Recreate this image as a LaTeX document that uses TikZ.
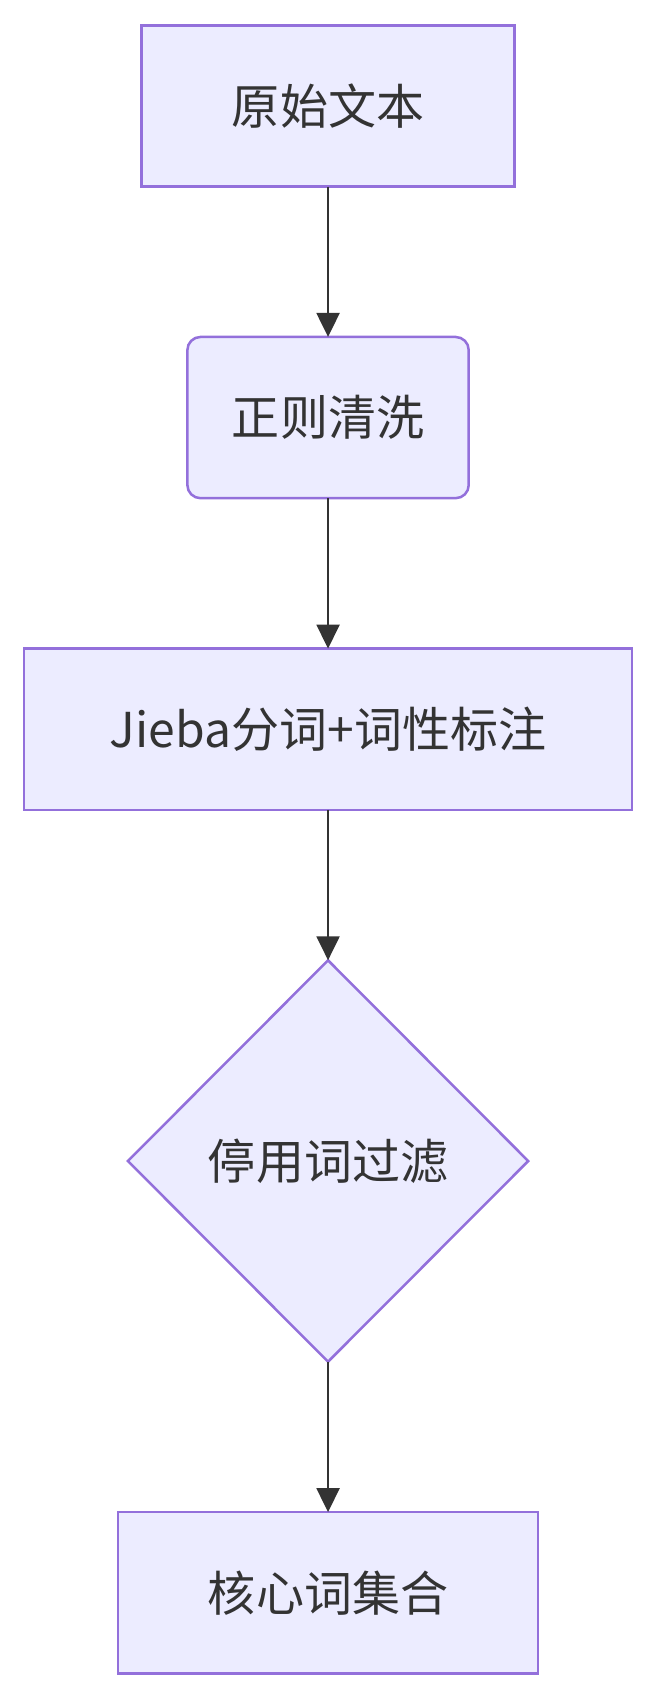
\documentclass[tikz,border=0pt]{standalone}
\usepackage{fontspec}
\setmainfont{Noto Sans CJK SC}
\usetikzlibrary{arrows.meta, shapes.geometric, positioning}
\definecolor{boxfill}{HTML}{ECECFF}
\definecolor{boxline}{HTML}{9370DB}
\definecolor{flowline}{HTML}{333333}

\begin{document}
\begin{tikzpicture}[x=1pt, y=1pt, every node/.style={fill=boxfill, draw=boxline, line width=2.3pt, text=flowline, font=\fontsize{44}{52}\selectfont, minimum height=147.7pt, inner sep=0pt, outer sep=0pt}, flow/.style={draw=flowline, line width=2.3pt, -{Triangle[length=22pt, width=21pt]}}]
                    \useasboundingbox (0,0) rectangle (600,-1555.4);
                    \node[minimum width=341.7pt](raw) at (300.5,-97){原始文本};
                    \node[below=137.8pt of raw, rounded corners=12pt, minimum width=257.7pt](clean){正则清洗};
                    \node[below=137.8pt of clean, minimum width=556.7pt](seg){Jieba分词+词性标注};
                    \node[below=137.8pt of seg, diamond, aspect=1, minimum width=366.7pt, minimum height=367.7pt](stop){停用词过滤};
                    \node[below=137.8pt of stop, minimum width=384.7pt](core){核心词集合};
                    \draw[flow] (raw) -- (clean);
                    \draw[flow] (clean) -- (seg);
                    \draw[flow] (seg) -- (stop);
                    \draw[flow] (stop) -- (core);
                \end{tikzpicture}
\end{document}
